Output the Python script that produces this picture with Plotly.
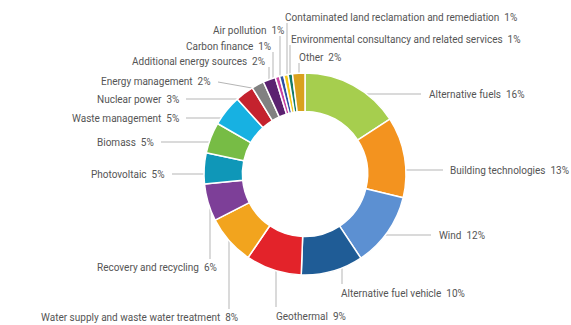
import math
import plotly.graph_objects as go

categories = [
    "Alternative fuels", "Building technologies", "Wind", "Alternative fuel vehicle",
    "Geothermal", "Water supply and waste water treatment", "Recovery and recycling",
    "Photovoltaic", "Biomass", "Waste management", "Nuclear power", "Energy management",
    "Additional energy sources", "Carbon finance", "Air pollution",
    "Contaminated land reclamation and remediation",
    "Environmental consultancy and related services", "Other",
]
values = [16, 13, 12, 10, 9, 8, 6, 5, 5, 5, 3, 2, 2, 0.7, 0.7, 0.7, 0.7, 2]
pct_labels = ["16%", "13%", "12%", "10%", "9%", "8%", "6%", "5%", "5%", "5%", "3%", "2%",
              "2%", "1%", "1%", "1%", "1%", "2%"]
colors = [
    "#a6ce4e", "#f3931f", "#5c90d2", "#1f5c96", "#e3232a", "#f2a41e", "#7d3f98",
    "#0f97b8", "#77bc45", "#17b1e2", "#c4222e", "#818181", "#5b2170", "#c943a3",
    "#2d50a3", "#f6c81a", "#137a67", "#d9a11e",
]

W, H = 571, 325
cx, cy, R = 305, 174, 101

# label layout: (x, y, xanchor, leader)
# leader: ("h", x_end)  horizontal line at label y from ring to x_end
#         ("v", x_line, y_end) vertical line at x_line from ring to y_end
#         ("s", x_start, y_start, x_ring) sloped line to ring point at x_ring (upper half)
label_layout = [
    (427, 94, "left", ("h", 421)),
    (448, 170, "left", ("h", 443)),
    (437, 235, "left", ("h", 431)),
    (339, 293, "left", ("v", 342, 284)),
    (274, 316, "left", ("v", 276, 307)),
    (240, 317, "right", ("v", 229, 309)),
    (219, 267, "right", ("v", 210, 259)),
    (167, 174, "right", ("h", 172)),
    (156, 142, "right", ("h", 161)),
    (181, 118, "right", ("h", 186)),
    (181, 99, "right", ("h", 186)),
    (213, 81, "right", ("s", 218, 82, 252)),
    (267, 61, "right", ("v", 269, 67)),
    (273, 46, "right", ("v", 273, 52)),
    (286, 30, "right", ("v", 280, 36)),
    (283, 17, "left", ("v", 287, 23)),
    (289, 39, "left", ("v", 290, 45)),
    (297, 57, "left", ("v", 299, 63)),
]

fig = go.Figure()
fig.add_trace(go.Pie(
    labels=categories, values=values, sort=False, direction="clockwise", rotation=0,
    hole=0.62, textinfo="none", hoverinfo="label+percent",
    marker=dict(colors=colors, line=dict(color="white", width=1.5)),
    domain=dict(x=[(cx - R) / W, (cx + R) / W], y=[1 - (cy + R) / H, 1 - (cy - R) / H]),
    showlegend=False,
))

shapes = []
annotations = []
line_style = dict(color="#b5b5b5", width=1)
for cat, pct, (lx, ly, anchor, leader) in zip(categories, pct_labels, label_layout):
    kind = leader[0]
    if kind == "h":
        dy = ly - cy
        dx = math.sqrt(max(R * R - dy * dy, 0))
        rx = cx + dx if anchor == "left" else cx - dx
        x0, y0, x1, y1 = rx, ly, leader[1], ly
    elif kind == "v":
        xl, yend = leader[1], leader[2]
        dx = xl - cx
        dy = math.sqrt(max(R * R - dx * dx, 0))
        ry = cy + dy if yend > cy else cy - dy
        x0, y0, x1, y1 = xl, ry, xl, yend
    else:
        xs, ys, xr = leader[1], leader[2], leader[3]
        dx = xr - cx
        ry = cy - math.sqrt(max(R * R - dx * dx, 0))
        x0, y0, x1, y1 = xs, ys, xr, ry
    shapes.append(dict(type="line", xref="x", yref="y", x0=x0, y0=y0, x1=x1, y1=y1,
                       line=line_style, layer="below"))
    annotations.append(dict(
        x=lx, y=ly, xref="x", yref="y", xanchor=anchor, yanchor="middle",
        text=f"{cat}\u00a0 {pct}", showarrow=False,
        font=dict(family="Roboto", size=10, color="#555555"),
    ))

fig.update_layout(
    width=W, height=H, margin=dict(l=0, r=0, t=0, b=0),
    paper_bgcolor="white", plot_bgcolor="rgba(0,0,0,0)",
    xaxis=dict(range=[0, W], visible=False, fixedrange=True),
    yaxis=dict(range=[H, 0], visible=False, fixedrange=True),
    shapes=shapes, annotations=annotations,
)

fig.write_html("out.html")
